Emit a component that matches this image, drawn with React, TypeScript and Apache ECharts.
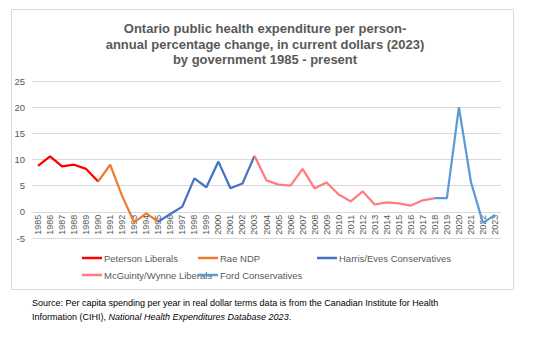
import React, { useEffect, useRef } from "react";
import * as echarts from "echarts";

const years = [
  "1985", "1986", "1987", "1988", "1989", "1990", "1991", "1992", "1993", "1994",
  "1995", "1996", "1997", "1998", "1999", "2000", "2001", "2002", "2003", "2004",
  "2005", "2006", "2007", "2008", "2009", "2010", "2011", "2012", "2013", "2014",
  "2015", "2016", "2017", "2018", "2019", "2020", "2021", "2022", "2023",
];

const pctChange = [
  8.8, 10.6, 8.7, 9.0, 8.2, 5.8, 9.0, 3.0, -2.0, -0.3,
  -1.9, -0.4, 1.0, 6.4, 4.7, 9.6, 4.5, 5.4, 10.7, 6.0,
  5.2, 5.0, 8.2, 4.5, 5.6, 3.3, 2.0, 3.9, 1.4, 1.8,
  1.6, 1.2, 2.2, 2.6, 2.6, 20.0, 5.7, -2.1, -0.6,
];

const governments = ["Peterson Liberals", "Rae NDP", "Harris/Eves Conservatives", "McGuinty/Wynne Liberals", "Ford Conservatives"];
const govStart = ["1985", "1990", "1995", "2003", "2018"];
const govEnd = ["1990", "1995", "2003", "2018", "2023"];
const govColors = ["#FF0000", "#ED7D31", "#4472C4", "#FF7C80", "#5B9BD5"];

const titleLines = [
  "Ontario public health expenditure per person-",
  "annual percentage change, in current dollars (2023)",
  "by government 1985 - present",
];

const yTicks = { min: -5, max: 25, interval: 5 };

const legendPos = [
  { left: 82, top: 253 },
  { left: 198, top: 253 },
  { left: 317, top: 253 },
  { left: 82, top: 270 },
  { left: 198, top: 270 },
];

const smallFont = "'Liberation Sans Narrow', 'Liberation Sans', sans-serif";
const textGray = "#595959";

export default function App() {
  const ref = useRef<HTMLDivElement>(null);

  useEffect(() => {
    if (!ref.current) return;
    const chart = echarts.init(ref.current, undefined, { renderer: "svg" });

    const gridTop = 81;
    const gridBottom = 115;
    const plotH = 353 - gridTop - gridBottom;
    const zeroOffset = (plotH * (0 - yTicks.min)) / (yTicks.max - yTicks.min);

    const series = governments.map((name, gi) => {
      const s = years.indexOf(govStart[gi]);
      const e = years.indexOf(govEnd[gi]);
      return {
        name,
        type: "line" as const,
        data: pctChange.map((v, i) => (i >= s && i <= e ? v : null)),
        showSymbol: false,
        symbol: "none",
        connectNulls: false,
        lineStyle: { color: govColors[gi], width: 2.25 },
        itemStyle: { color: govColors[gi] },
        z: 2 + gi,
      };
    });

    const legends = governments.map((name, gi) => ({
      data: [name],
      left: legendPos[gi].left,
      top: legendPos[gi].top,
      icon: "rect",
      itemWidth: 20,
      itemHeight: 2.5,
      itemGap: 2,
      padding: 0,
      textStyle: { color: textGray, fontSize: 9.5, fontFamily: smallFont, padding: [0, 0, 0, -3] },
    }));

    chart.setOption({
      animation: false,
      backgroundColor: "#ffffff",
      title: {
        text: titleLines.join("\n"),
        left: 260,
        top: 16,
        textAlign: "center",
        textStyle: {
          color: textGray,
          fontSize: 13,
          fontWeight: "bold",
          fontFamily: "'Liberation Sans Narrow', 'Liberation Sans', sans-serif",
          lineHeight: 15.5,
        },
      },
      legend: legends,
      grid: { left: 32, right: 32, top: gridTop, bottom: gridBottom },
      xAxis: {
        type: "category",
        data: years,
        boundaryGap: true,
        offset: -zeroOffset,
        axisLine: { show: true, onZero: false, lineStyle: { color: "#d9d9d9", width: 1 } },
        axisTick: { show: false },
        axisLabel: {
          rotate: 90,
          interval: 0,
          color: textGray,
          fontSize: 9,
          fontFamily: smallFont,
          margin: 3,
        },
        splitLine: { show: false },
      },
      yAxis: {
        type: "value",
        min: yTicks.min,
        max: yTicks.max,
        interval: yTicks.interval,
        axisLine: { show: false },
        axisTick: { show: false },
        axisLabel: { color: textGray, fontSize: 9.5, fontFamily: smallFont, margin: 7 },
        splitLine: { lineStyle: { color: "#d9d9d9", width: 1 } },
      },
      series,
      graphic: [
        {
          type: "rect",
          left: 9,
          top: 7,
          shape: { x: 0, y: 0, width: 502, height: 280 },
          style: { fill: "none", stroke: "#d9d9d9", lineWidth: 1 },
          z: -10,
          silent: true,
        },
        {
          type: "text",
          left: 32,
          top: 298,
          style: {
            text: "Source: Per capita spending per year in real dollar terms data is from the Canadian Institute for Health",
            fill: "#000000",
            fontSize: 9,
            fontFamily: smallFont,
          },
        },
        {
          type: "text",
          left: 32,
          top: 312,
          style: {
            text: "Information (CIHI), {i|National Health Expenditures Database 2023}.",
            fill: "#000000",
            fontSize: 9,
            fontFamily: smallFont,
            rich: { i: { fontStyle: "italic", fontSize: 9, fontFamily: smallFont, fill: "#000000" } },
          },
        },
      ],
    });

    return () => chart.dispose();
  }, []);

  return (
    <div
      ref={ref}
      style={{ position: "fixed", left: 0, top: 0, width: 533, height: 353, background: "#fff" }}
    />
  );
}
